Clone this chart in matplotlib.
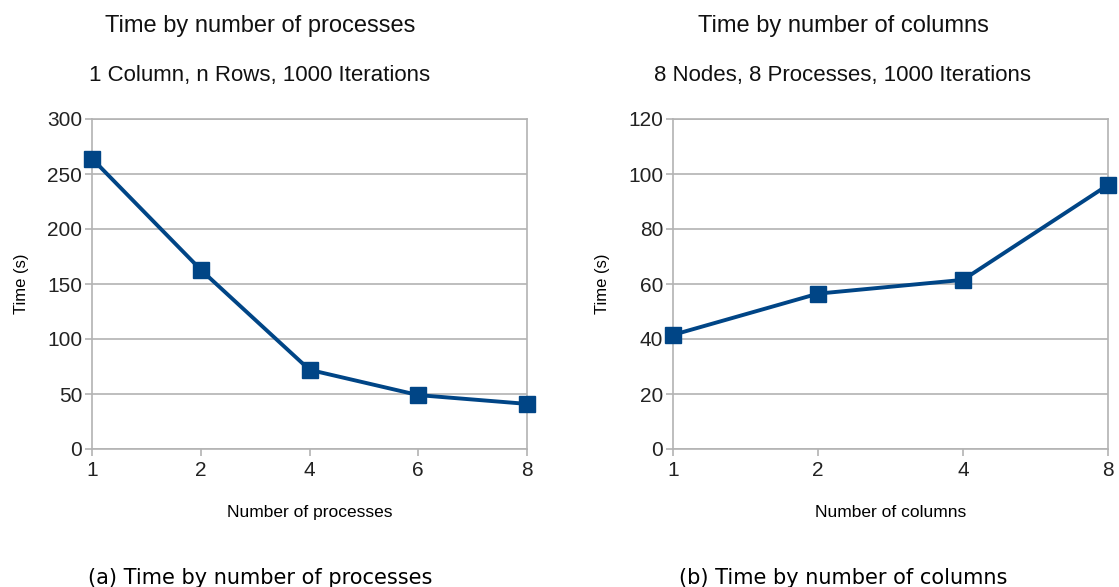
import matplotlib.pyplot as plt

proc_labels = ["1", "2", "4", "6", "8"]
proc_times = [264, 163, 72, 49, 41]

col_labels = ["1", "2", "4", "8"]
col_times = [41.5, 56.5, 61.5, 96]

blue = "#004586"
grey = "#b3b3b3"

fig = plt.figure(figsize=(11.19, 5.87), dpi=100)


def panel(rect, labels, values, ymax, ystep, xlabel, title, subtitle, caption, cx):
    ax = fig.add_axes(rect)
    xs = list(range(len(labels)))
    ax.plot(xs, values, color=blue, lw=2.8, marker="s", ms=11,
            markeredgecolor=blue, clip_on=False, zorder=3)
    ax.set_xlim(0, len(labels) - 1)
    ax.set_ylim(0, ymax)
    ax.set_xticks(xs)
    ax.set_xticklabels(labels)
    ax.set_yticks(range(0, ymax + 1, ystep))
    ax.grid(axis="y", color=grey, lw=1.2)
    ax.set_axisbelow(True)
    for s in ax.spines.values():
        s.set_color(grey)
        s.set_linewidth(1.2)
    ax.tick_params(colors=grey, length=5, width=1.2, labelcolor="#222222",
                   labelsize=15)
    ax.tick_params(axis="y", pad=2)
    for t in ax.get_xticklabels() + ax.get_yticklabels():
        t.set_family("Liberation Sans")
    ax.set_xlabel(xlabel, fontsize=12.5, family="Liberation Sans", labelpad=18)
    ax.set_ylabel("Time (s)", fontsize=12, family="Liberation Sans", labelpad=13)
    fig.text(cx, 1 - 26 / 587, title, ha="center", va="center",
             fontsize=17, family="Liberation Sans", color="#111111")
    fig.text(cx, 1 - 76 / 587, subtitle, ha="center", va="center",
             fontsize=16, family="Liberation Sans", color="#111111")
    fig.text(cx, 1 - 578 / 587, caption, ha="center", va="center",
             fontsize=15, family="DejaVu Sans")
    return ax


h = 330 / 587
b = (587 - 449) / 587
panel([92 / 1119, b, 435 / 1119, h], proc_labels, proc_times, 300, 50,
      "Number of processes", "Time by number of processes",
      "1 Column, n Rows, 1000 Iterations",
      "(a) Time by number of processes", 260 / 1119)
panel([673 / 1119, b, 435 / 1119, h], col_labels, col_times, 120, 20,
      "Number of columns", "Time by number of columns",
      "8 Nodes, 8 Processes, 1000 Iterations",
      "(b) Time by number of columns", 843 / 1119)

fig.savefig("out.png", dpi=100)
